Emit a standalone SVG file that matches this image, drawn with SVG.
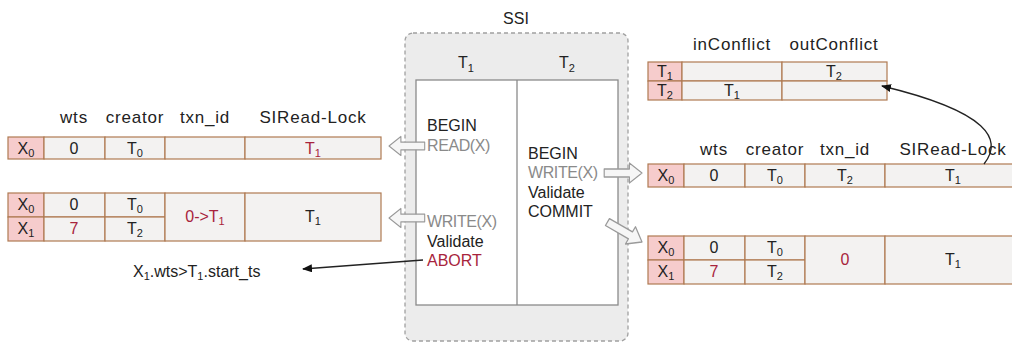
<svg xmlns="http://www.w3.org/2000/svg" width="1012" height="345" viewBox="0 0 1012 345">
  <style>
    text { font-family: "Liberation Sans", Arial, sans-serif; fill: #222; }
    .hdr { font-size: 17px; letter-spacing: 0.8px; text-anchor: middle; }
    .cell { font-size: 16px; text-anchor: middle; }
    .op { font-size: 16px; }
    .grey { fill: #8a8a8a; letter-spacing: -0.4px; }
    .red { fill: #a8243c; }
    .sub { font-size: 11px; }
    .key { fill: #f6cccc; stroke: #b07a52; stroke-width: 1.2; }
    .val { fill: #f3f2f1; stroke: #b07a52; stroke-width: 1.2; }
    .blk { fill: #f6f6f6; stroke: #9a9a9a; stroke-width: 1.3; stroke-linejoin: round; }
    .wire { fill: none; stroke: #222; stroke-width: 1.3; }
  </style>
  <defs>
    <marker id="tip" markerWidth="10" markerHeight="8" refX="9" refY="4" orient="auto" markerUnits="userSpaceOnUse">
      <path d="M0,0 L10,4 L0,8 Z" fill="#111"/>
    </marker>
    <!-- hollow block arrow pointing right, tip at (0,0) -->
    <path id="blockArrow" d="M-42,-4 L-14,-4 L-14,-10 L0,0 L-14,10 L-14,4 L-42,4 Z"/>
  </defs>

  <rect width="1012" height="345" fill="#fff"/>

  <!-- SSI schedule -->
  <g id="ssi">
    <text x="516" y="24" font-size="16" text-anchor="middle">SSI</text>
    <rect x="405" y="33" width="223" height="308" rx="8" fill="#ececec" stroke="#a0a0a0" stroke-width="1.3" stroke-dasharray="4 3"/>
    <text x="466" y="68" class="cell" font-size="17">T<tspan class="sub" dy="4">1</tspan></text>
    <text x="567" y="68" class="cell" font-size="17">T<tspan class="sub" dy="4">2</tspan></text>
    <rect x="416" y="80" width="202" height="225" fill="#fff" stroke="#8a8a8a" stroke-width="1.3"/>
    <line x1="517" y1="80" x2="517" y2="305" stroke="#8a8a8a" stroke-width="1.3"/>
    <text x="427" y="131" class="op">BEGIN</text>
    <text x="427" y="151" class="op grey">READ(X)</text>
    <text x="427" y="227" class="op grey">WRITE(X)</text>
    <text x="427" y="247" class="op">Validate</text>
    <text x="427" y="266" class="op red">ABORT</text>
    <text x="528" y="159" class="op">BEGIN</text>
    <text x="528" y="178" class="op grey">WRITE(X)</text>
    <text x="528" y="198" class="op">Validate</text>
    <text x="528" y="217" class="op">COMMIT</text>
  </g>

  <!-- T1 reads X: version list before -->
  <g id="left-table-read">
    <text x="74" y="123" class="hdr">wts</text>
    <text x="135" y="123" class="hdr">creator</text>
    <text x="205" y="123" class="hdr">txn_id</text>
    <text x="313" y="123" class="hdr">SIRead-Lock</text>
    <rect x="8" y="137" width="36" height="22" class="key"/>
    <rect x="44" y="137" width="61" height="22" class="val"/>
    <rect x="105" y="137" width="60" height="22" class="val"/>
    <rect x="165" y="137" width="80" height="22" class="val"/>
    <rect x="245" y="137" width="136" height="22" class="val"/>
    <text x="26" y="154" class="cell">X<tspan class="sub" dy="3">0</tspan></text>
    <text x="74" y="154" class="cell">0</text>
    <text x="135" y="154" class="cell">T<tspan class="sub" dy="3">0</tspan></text>
    <text x="313" y="154" class="cell red">T<tspan class="sub" dy="3">1</tspan></text>
  </g>

  <!-- T1 writes X: version list with new version -->
  <g id="left-table-write">
    <rect x="8" y="193" width="36" height="24" class="key"/>
    <rect x="8" y="217" width="36" height="24" class="key"/>
    <rect x="44" y="193" width="61" height="24" class="val"/>
    <rect x="44" y="217" width="61" height="24" class="val"/>
    <rect x="105" y="193" width="60" height="24" class="val"/>
    <rect x="105" y="217" width="60" height="24" class="val"/>
    <rect x="165" y="193" width="80" height="48" class="val"/>
    <rect x="245" y="193" width="136" height="48" class="val"/>
    <text x="26" y="210" class="cell">X<tspan class="sub" dy="3">0</tspan></text>
    <text x="26" y="234" class="cell">X<tspan class="sub" dy="3">1</tspan></text>
    <text x="74" y="210" class="cell">0</text>
    <text x="74" y="234" class="cell red">7</text>
    <text x="135" y="210" class="cell">T<tspan class="sub" dy="3">0</tspan></text>
    <text x="135" y="234" class="cell">T<tspan class="sub" dy="3">2</tspan></text>
    <text x="205" y="222" class="cell red">0-&gt;T<tspan class="sub" dy="3">1</tspan></text>
    <text x="313" y="222" class="cell">T<tspan class="sub" dy="3">1</tspan></text>
  </g>

  <!-- abort reason -->
  <g id="abort-reason">
    <text x="133" y="277" class="op">X<tspan class="sub" dy="3">1</tspan><tspan dy="-3">.wts&gt;T</tspan><tspan class="sub" dy="3">1</tspan><tspan dy="-3">.start_ts</tspan></text>
  </g>

  <!-- rw-conflict table -->
  <g id="conflict-table">
    <text x="732" y="50" class="hdr">inConflict</text>
    <text x="834" y="50" class="hdr">outConflict</text>
    <rect x="648" y="62" width="34" height="19" class="key"/>
    <rect x="648" y="81" width="34" height="19" class="key"/>
    <rect x="682" y="62" width="100" height="19" class="val"/>
    <rect x="682" y="81" width="100" height="19" class="val"/>
    <rect x="782" y="62" width="105" height="19" class="val"/>
    <rect x="782" y="81" width="105" height="19" class="val"/>
    <text x="665" y="77" class="cell">T<tspan class="sub" dy="3">1</tspan></text>
    <text x="665" y="96" class="cell">T<tspan class="sub" dy="3">2</tspan></text>
    <text x="834" y="77" class="cell">T<tspan class="sub" dy="3">2</tspan></text>
    <text x="732" y="96" class="cell">T<tspan class="sub" dy="3">1</tspan></text>
  </g>

  <!-- T2 writes X: version list with pending writer -->
  <g id="right-table-write">
    <text x="714" y="155" class="hdr">wts</text>
    <text x="775" y="155" class="hdr">creator</text>
    <text x="845" y="155" class="hdr">txn_id</text>
    <text x="953" y="155" class="hdr">SIRead-Lock</text>
    <rect x="648" y="164" width="36" height="23" class="key"/>
    <rect x="684" y="164" width="61" height="23" class="val"/>
    <rect x="745" y="164" width="60" height="23" class="val"/>
    <rect x="805" y="164" width="80" height="23" class="val"/>
    <rect x="885" y="164" width="136" height="23" class="val"/>
    <text x="666" y="181" class="cell">X<tspan class="sub" dy="3">0</tspan></text>
    <text x="714" y="181" class="cell">0</text>
    <text x="775" y="181" class="cell">T<tspan class="sub" dy="3">0</tspan></text>
    <text x="845" y="181" class="cell">T<tspan class="sub" dy="3">2</tspan></text>
    <text x="953" y="181" class="cell">T<tspan class="sub" dy="3">1</tspan></text>
  </g>

  <!-- T2 commits: version list after -->
  <g id="right-table-commit">
    <rect x="648" y="236" width="36" height="24" class="key"/>
    <rect x="648" y="260" width="36" height="24" class="key"/>
    <rect x="684" y="236" width="61" height="24" class="val"/>
    <rect x="684" y="260" width="61" height="24" class="val"/>
    <rect x="745" y="236" width="60" height="24" class="val"/>
    <rect x="745" y="260" width="60" height="24" class="val"/>
    <rect x="805" y="236" width="80" height="48" class="val"/>
    <rect x="885" y="236" width="136" height="48" class="val"/>
    <text x="666" y="253" class="cell">X<tspan class="sub" dy="3">0</tspan></text>
    <text x="666" y="277" class="cell">X<tspan class="sub" dy="3">1</tspan></text>
    <text x="714" y="253" class="cell">0</text>
    <text x="714" y="277" class="cell red">7</text>
    <text x="775" y="253" class="cell">T<tspan class="sub" dy="3">0</tspan></text>
    <text x="775" y="277" class="cell">T<tspan class="sub" dy="3">2</tspan></text>
    <text x="845" y="265" class="cell red">0</text>
    <text x="953" y="265" class="cell">T<tspan class="sub" dy="3">1</tspan></text>
  </g>

  <!-- connectors -->
  <g id="connectors">
    <use href="#blockArrow" class="blk" transform="translate(389,146) rotate(180) scale(0.85,0.95)"/>
    <use href="#blockArrow" class="blk" transform="translate(389,218) rotate(180) scale(0.85,0.95)"/>
    <use href="#blockArrow" class="blk" transform="translate(642,173) scale(0.9,1)"/>
    <use href="#blockArrow" class="blk" transform="translate(642,242) rotate(30) scale(0.95,1)"/>
    <path class="wire" d="M423,260 L303,269" marker-end="url(#tip)"/>
    <path class="wire" d="M984,164 C1003,140 990,112 882,86" marker-end="url(#tip)"/>
  </g>
</svg>
